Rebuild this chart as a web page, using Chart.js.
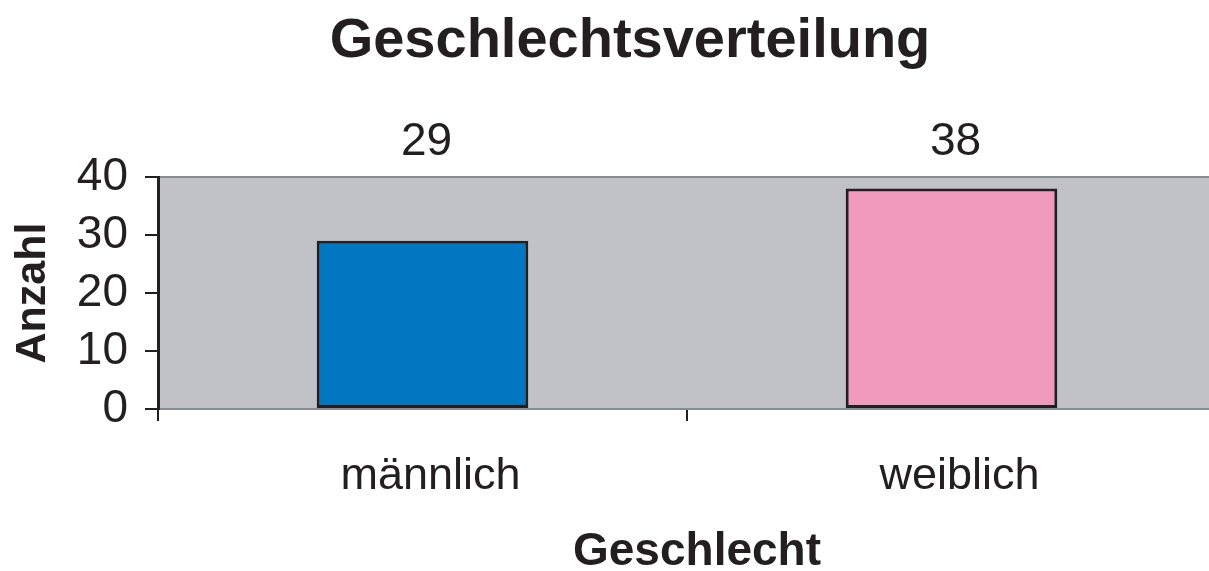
<!DOCTYPE html>
<html lang="de">
<head>
    <meta charset="UTF-8">
    <title>Geschlechtsverteilung</title>
    <script src="https://cdn.jsdelivr.net/npm/chart.js"></script>
    <style>
        html, body { margin: 0; padding: 0; background: #fff; overflow: hidden; }
        .wrap { width: 1209px; height: 571px; overflow: hidden; }
        .box { width: 1216px; height: 571px; }
    </style>
</head>
<body>
    <div class="wrap"><div class="box"><canvas id="chart"></canvas></div></div>

    <script>
        // Daten
        const kategorien = ['männlich', 'weiblich'];
        const anzahl = [29, 38];
        const farben = ['#0077c0', '#f09abd'];
        const yTicks = [0, 10, 20, 30, 40];
        const xTitel = 'Geschlecht';

        const schrift = '"Liberation Sans", Arial, sans-serif';
        const textFarbe = '#231f20';

        // grauer Hintergrund der Zeichenfläche
        const hintergrund = {
            id: 'hintergrund',
            beforeDraw(chart) {
                const { ctx, chartArea: a } = chart;
                ctx.save();
                ctx.fillStyle = '#c1c2c7';
                ctx.fillRect(a.left, a.top, a.right - a.left, a.bottom - a.top);
                ctx.strokeStyle = '#858c93';
                ctx.lineWidth = 2;
                ctx.beginPath();
                ctx.moveTo(a.left, a.top);
                ctx.lineTo(a.right, a.top);
                ctx.stroke();
                ctx.restore();
            }
        };

        // Werte über der Zeichenfläche + Achsentitel unten
        const beschriftung = {
            id: 'beschriftung',
            afterDraw(chart) {
                const { ctx, chartArea: a } = chart;
                const meta = chart.getDatasetMeta(0);
                ctx.save();
                ctx.fillStyle = textFarbe;
                ctx.textAlign = 'center';
                ctx.textBaseline = 'middle';
                ctx.font = '46px ' + schrift;
                meta.data.forEach((bar, i) => {
                    ctx.fillText(String(anzahl[i]), bar.x + 4, a.top - 35);
                });
                ctx.font = 'bold 46px ' + schrift;
                ctx.fillText(xTitel, (a.left + a.right) / 2 + 10, 552);
                ctx.restore();
            }
        };

        new Chart(document.getElementById('chart'), {
            type: 'bar',
            data: {
                labels: kategorien,
                datasets: [{
                    data: anzahl,
                    backgroundColor: farben,
                    borderColor: textFarbe,
                    borderWidth: 3,
                    borderSkipped: false,
                    categoryPercentage: 0.4,
                    barPercentage: 1
                }]
            },
            options: {
                responsive: true,
                maintainAspectRatio: false,
                animation: false,
                layout: { padding: { top: 8, left: 44, right: 0, bottom: 0 } },
                plugins: {
                    legend: { display: false },
                    tooltip: { enabled: false },
                    title: {
                        display: true,
                        text: 'Geschlechtsverteilung',
                        color: textFarbe,
                        font: { family: schrift, size: 56, weight: 'bold', lineHeight: 1.2 },
                        padding: { top: 0, bottom: 101.8 }
                    }
                },
                scales: {
                    x: {
                        afterFit(scale) { scale.height = 162; },
                        grid: {
                            offset: true,
                            drawOnChartArea: false,
                            color: textFarbe,
                            lineWidth: 2,
                            tickLength: 12
                        },
                        border: { color: '#858c93', width: 2 },
                        ticks: {
                            color: textFarbe,
                            font: { family: schrift, size: 45 },
                            padding: 29,
                            labelOffset: 8
                        }
                    },
                    y: {
                        min: 0,
                        max: 40,
                        afterFit(scale) { scale.width = 114; },
                        afterBuildTicks(scale) {
                            scale.ticks = yTicks.map(v => ({ value: v }));
                        },
                        grid: {
                            drawOnChartArea: false,
                            color: textFarbe,
                            lineWidth: 2,
                            tickLength: 13
                        },
                        border: { color: textFarbe, width: 3 },
                        ticks: {
                            color: textFarbe,
                            font: { family: schrift, size: 46 },
                            padding: 17,
                            autoSkip: false
                        },
                        title: {
                            display: true,
                            text: 'Anzahl',
                            color: textFarbe,
                            font: { family: schrift, size: 43, weight: 'bold' },
                            padding: { top: -37, bottom: 0 }
                        }
                    }
                }
            },
            plugins: [hintergrund, beschriftung]
        });
    </script>
</body>
</html>
